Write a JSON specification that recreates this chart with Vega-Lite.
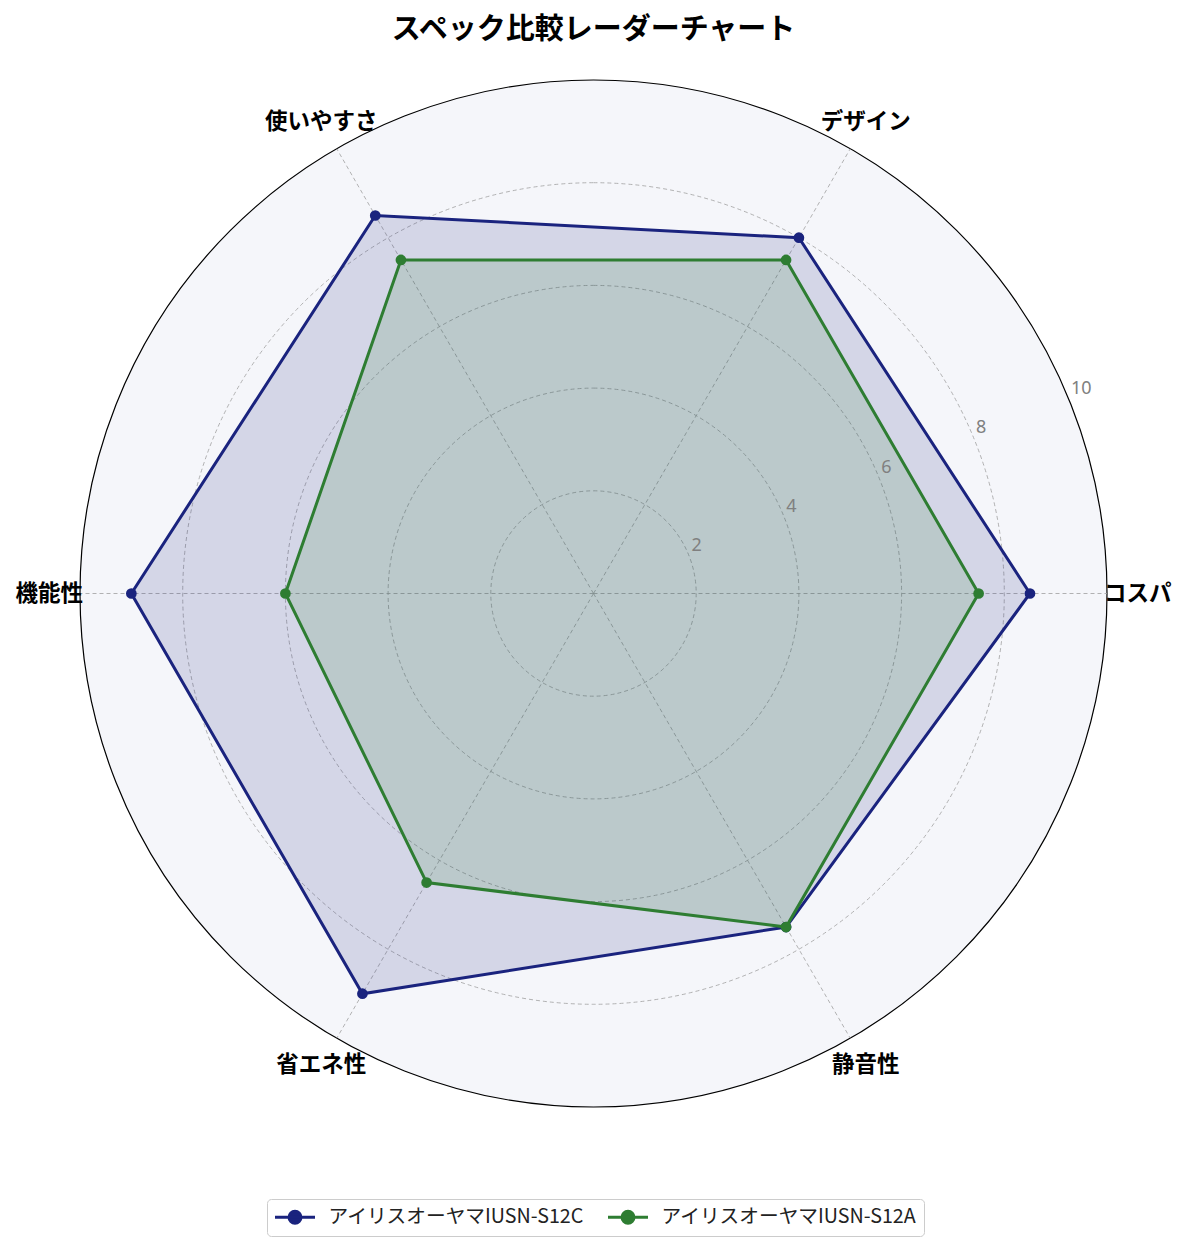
{
  "$schema": "https://vega.github.io/schema/vega-lite/v6.json",
  "autosize": {"type": "none"},
  "width": 1027,
  "height": 1027,
  "padding": {"left": 80, "top": 80, "right": 78, "bottom": 141},
  "background": "white",
  "config": {"view": {"stroke": null}, "font": "Noto Sans CJK JP"},
  "title": {
    "text": "スペック比較レーダーチャート",
    "font": "Noto Sans CJK JP",
    "fontSize": 29,
    "fontWeight": "bold",
    "color": "black",
    "anchor": "middle",
    "offset": 33
  },
  "datasets": {
    "scores": [
      {"model": "アイリスオーヤマIUSN-S12C", "axis": "コスパ", "k": 0, "score": 8.5},
      {"model": "アイリスオーヤマIUSN-S12C", "axis": "デザイン", "k": 1, "score": 8.0},
      {"model": "アイリスオーヤマIUSN-S12C", "axis": "使いやすさ", "k": 2, "score": 8.5},
      {"model": "アイリスオーヤマIUSN-S12C", "axis": "機能性", "k": 3, "score": 9.0},
      {"model": "アイリスオーヤマIUSN-S12C", "axis": "省エネ性", "k": 4, "score": 9.0},
      {"model": "アイリスオーヤマIUSN-S12C", "axis": "静音性", "k": 5, "score": 7.5},
      {"model": "アイリスオーヤマIUSN-S12A", "axis": "コスパ", "k": 0, "score": 7.5},
      {"model": "アイリスオーヤマIUSN-S12A", "axis": "デザイン", "k": 1, "score": 7.5},
      {"model": "アイリスオーヤマIUSN-S12A", "axis": "使いやすさ", "k": 2, "score": 7.5},
      {"model": "アイリスオーヤマIUSN-S12A", "axis": "機能性", "k": 3, "score": 6.0},
      {"model": "アイリスオーヤマIUSN-S12A", "axis": "省エネ性", "k": 4, "score": 6.5},
      {"model": "アイリスオーヤマIUSN-S12A", "axis": "静音性", "k": 5, "score": 7.5}
    ],
    "axes": [
      {"axis": "コスパ", "k": 0},
      {"axis": "デザイン", "k": 1},
      {"axis": "使いやすさ", "k": 2},
      {"axis": "機能性", "k": 3},
      {"axis": "省エネ性", "k": 4},
      {"axis": "静音性", "k": 5}
    ],
    "rings": [{"r": 2}, {"r": 4}, {"r": 6}, {"r": 8}],
    "outer": [{"r": 10}],
    "ticks": [{"t": 2}, {"t": 4}, {"t": 6}, {"t": 8}, {"t": 10}]
  },
  "layer": [
    {
      "data": {"name": "outer"},
      "mark": {"type": "arc", "theta": 0, "theta2": 6.2832, "fill": "#f5f6fa", "stroke": "black", "strokeWidth": 1.2},
      "encoding": {
        "radius": {"field": "r", "type": "quantitative", "stack": null, "scale": {"type": "linear", "domain": [0, 10], "range": [0, 513.5], "zero": true, "nice": false}}
      }
    },
    {
      "data": {"name": "rings"},
      "mark": {"type": "arc", "theta": 0, "theta2": 6.2832, "fill": "white", "fillOpacity": 0, "stroke": "#a0a0a0", "strokeWidth": 0.8, "strokeDash": [4, 3]},
      "encoding": {
        "radius": {"field": "r", "type": "quantitative", "stack": null}
      }
    },
    {
      "data": {"name": "axes"},
      "transform": [
        {"calculate": "10 * cos(datum.k * PI / 3)", "as": "ex"},
        {"calculate": "10 * sin(datum.k * PI / 3)", "as": "ey"},
        {"calculate": "0", "as": "ox"}
      ],
      "mark": {"type": "rule", "stroke": "#a0a0a0", "strokeWidth": 0.8, "strokeDash": [4, 3]},
      "encoding": {
        "x": {"field": "ox", "type": "quantitative", "scale": {"domain": [-10, 10], "nice": false, "zero": false}, "axis": null},
        "y": {"field": "ox", "type": "quantitative", "scale": {"domain": [-10, 10], "nice": false, "zero": false}, "axis": null},
        "x2": {"field": "ex"},
        "y2": {"field": "ey"}
      }
    },
    {
      "data": {"name": "scores"},
      "transform": [
        {"filter": "datum.model == 'アイリスオーヤマIUSN-S12C'"},
        {"calculate": "datum.score * cos(datum.k * PI / 3)", "as": "px"},
        {"calculate": "datum.score * sin(datum.k * PI / 3)", "as": "py"}
      ],
      "layer": [
        {
          "mark": {"type": "line", "interpolate": "linear-closed", "fill": "#1a237e", "fillOpacity": 0.15, "strokeWidth": 0, "stroke": null},
          "encoding": {
            "x": {"field": "px", "type": "quantitative"},
            "y": {"field": "py", "type": "quantitative"},
            "order": {"field": "k"}
          }
        },
        {
          "mark": {"type": "line", "interpolate": "linear-closed", "strokeWidth": 3},
          "encoding": {
            "x": {"field": "px", "type": "quantitative"},
            "y": {"field": "py", "type": "quantitative"},
            "order": {"field": "k"},
            "color": {"field": "model", "type": "nominal"}
          }
        },
        {
          "mark": {"type": "point", "filled": true, "opacity": 1, "size": 115},
          "encoding": {
            "x": {"field": "px", "type": "quantitative"},
            "y": {"field": "py", "type": "quantitative"},
            "color": {"field": "model", "type": "nominal"}
          }
        }
      ]
    },
    {
      "data": {"name": "scores"},
      "transform": [
        {"filter": "datum.model == 'アイリスオーヤマIUSN-S12A'"},
        {"calculate": "datum.score * cos(datum.k * PI / 3)", "as": "px"},
        {"calculate": "datum.score * sin(datum.k * PI / 3)", "as": "py"}
      ],
      "layer": [
        {
          "mark": {"type": "line", "interpolate": "linear-closed", "fill": "#2e7d32", "fillOpacity": 0.15, "strokeWidth": 0, "stroke": null},
          "encoding": {
            "x": {"field": "px", "type": "quantitative"},
            "y": {"field": "py", "type": "quantitative"},
            "order": {"field": "k"}
          }
        },
        {
          "mark": {"type": "line", "interpolate": "linear-closed", "strokeWidth": 3},
          "encoding": {
            "x": {"field": "px", "type": "quantitative"},
            "y": {"field": "py", "type": "quantitative"},
            "order": {"field": "k"},
            "color": {"field": "model", "type": "nominal"}
          }
        },
        {
          "mark": {"type": "point", "filled": true, "opacity": 1, "size": 115},
          "encoding": {
            "x": {"field": "px", "type": "quantitative"},
            "y": {"field": "py", "type": "quantitative"},
            "color": {
              "field": "model",
              "type": "nominal",
              "scale": {"domain": ["アイリスオーヤマIUSN-S12C", "アイリスオーヤマIUSN-S12A"], "range": ["#1a237e", "#2e7d32"]},
              "legend": {
                "title": null,
                "orient": "none",
                "legendX": 187,
                "legendY": 1119,
                "direction": "horizontal",
                "symbolType": "M-2,0L2,0M0.6,0A0.6,0.6 0 1 1 -0.6,0A0.6,0.6 0 1 1 0.6,0Z",
                "symbolSize": 400,
                "symbolOffset": 10,
                "symbolStrokeWidth": 3,
                "labelFont": "Noto Sans CJK JP",
                "labelFontSize": 19.7,
                "labelColor": "#222222",
                "labelOffset": 22,
                "columnPadding": 17,
                "padding": 6.5,
                "strokeColor": "#cccccc",
                "fillColor": "white",
                "cornerRadius": 4,
                "labelLimit": 400,
                "encode": {
                  "symbols": {
                    "update": {
                      "fill": {"scale": "color", "field": "value"},
                      "stroke": {"scale": "color", "field": "value"},
                      "opacity": {"value": 1}
                    }
                  }
                }
              }
            }
          }
        }
      ]
    },
    {
      "data": {"name": "axes"},
      "transform": [
        {"calculate": "10.6 * cos(datum.k * PI / 3)", "as": "lx"},
        {"calculate": "10.6 * sin(datum.k * PI / 3)", "as": "ly"}
      ],
      "mark": {"type": "text", "font": "Noto Sans CJK JP", "fontSize": 22.5, "fontWeight": "bold", "color": "black", "align": "center", "baseline": "middle"},
      "encoding": {
        "x": {"field": "lx", "type": "quantitative"},
        "y": {"field": "ly", "type": "quantitative"},
        "text": {"field": "axis"}
      }
    },
    {
      "data": {"name": "ticks"},
      "transform": [
        {"calculate": "datum.t * cos(PI / 8)", "as": "tx"},
        {"calculate": "datum.t * sin(PI / 8)", "as": "ty"}
      ],
      "mark": {"type": "text", "font": "Noto Sans", "fontSize": 18, "color": "#808080", "align": "left", "baseline": "alphabetic", "dx": 3, "dy": -3},
      "encoding": {
        "x": {"field": "tx", "type": "quantitative"},
        "y": {"field": "ty", "type": "quantitative"},
        "text": {"field": "t", "type": "quantitative"}
      }
    }
  ]
}
